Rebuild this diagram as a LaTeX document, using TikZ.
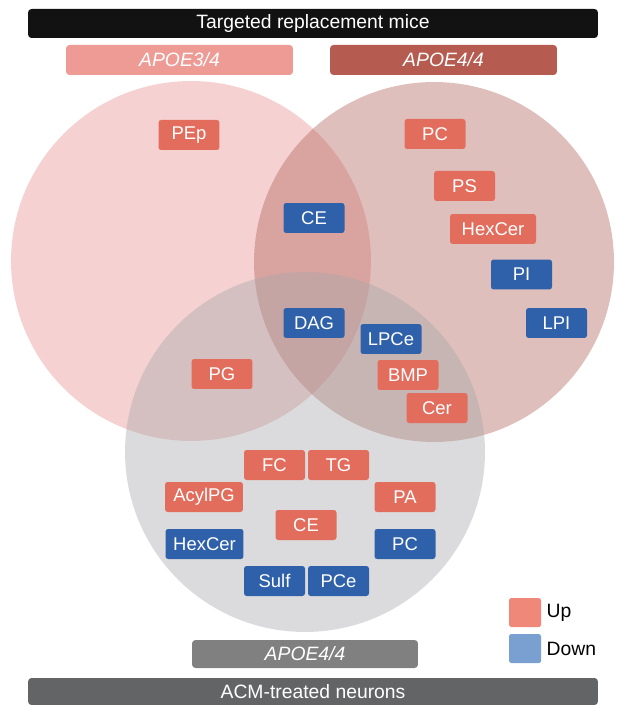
\documentclass[tikz,border=0pt]{standalone}
\usepackage{fontspec}
\setmainfont{Liberation Sans}
\usetikzlibrary{positioning}
\definecolor{hausse}{HTML}{E36D5D}
\definecolor{baisse}{HTML}{2F61AB}
\definecolor{hausseclair}{HTML}{EF8878}
\definecolor{baisseclair}{HTML}{7A9FD1}
\definecolor{rose}{RGB}{232,144,140}
\definecolor{brique}{RGB}{175,95,88}
\definecolor{gris}{RGB}{165,167,170}
\definecolor{bandrose}{RGB}{238,154,149}
\definecolor{bandbrique}{RGB}{182,91,80}
\definecolor{bandgris}{RGB}{128,128,128}
\definecolor{bandfonce}{RGB}{99,100,102}

\begin{document}
\begin{tikzpicture}[x=0.02cm,y=-0.02cm]
  \tikzstyle{lipide}=[rounded corners=1.5pt, minimum width=1.22cm, minimum height=0.6cm, inner sep=0, text=white, font=\fontsize{10.5}{12}\selectfont];
  \tikzstyle{hausse}=[lipide, fill=hausse];
  \tikzstyle{baisse}=[lipide, fill=baisse];
  \tikzstyle{bandeau}=[rounded corners=2pt, minimum height=0.6cm, inner sep=0, text=white, font=\fontsize{11}{13}\selectfont];

  \clip (0,0) rectangle (616,705);
  \fill[white] (0,0) rectangle (616,705);

  % les trois ensembles
  \fill[rose, fill opacity=.4] (191,261) circle (3.6cm);
  \fill[brique, fill opacity=.4] (434,262) circle (3.6cm);
  \fill[gris, fill opacity=.4] (305,452) circle (3.6cm);

  % bandeaux
  \node[bandeau, fill=black!93, minimum width=11.4cm, minimum height=0.58cm] (TR) at (313,23.5) {Targeted replacement mice};
  \node[bandeau, fill=bandrose, minimum width=4.54cm] (A34) at (179.5,60) {\itshape APOE3/4};
  \node[bandeau, fill=bandbrique, minimum width=4.54cm] (A44) at (443.5,60) {\itshape APOE4/4};
  \node[bandeau, fill=bandgris, minimum width=4.52cm, minimum height=0.56cm] (A44n) at (305,654) {\itshape APOE4/4};
  \node[bandeau, fill=bandfonce, minimum width=11.4cm, minimum height=0.54cm] (ACM) at (313,691.5) {ACM-treated neurons};

  % APOE3/4 seul
  \node[hausse] (PEp) at (189,135) {PEp};
  % APOE4/4 seul
  \node[hausse] (PC) at (435,134) {PC};
  \node[hausse] (PS) at (464.5,186) {PS};
  \node[hausse, minimum width=1.72cm] (HexCer) at (493,229) {HexCer};
  \node[baisse] (PI) at (521.5,274.5) {PI};
  \node[baisse] (LPI) at (556.5,323) {LPI};
  % intersections
  \node[baisse] (CE) at (314,218) {CE};
  \node[baisse] (DAG) at (314,323) {DAG};
  \node[hausse] (PG) at (222,374) {PG};
  \node[baisse] (LPCe) at (391,339) {LPCe};
  \node[hausse] (BMP) at (408,375) {BMP};
  \node[hausse] (Cer) at (437,408) {Cer};
  % neurones seuls
  \node[hausse] (FC) at (274.5,465) {FC};
  \node[hausse] (TG) at (338.5,465) {TG};
  \node[hausse, minimum width=1.56cm] (AcylPG) at (204,497) {AcylPG};
  \node[hausse] (PA) at (405,497) {PA};
  \node[hausse] (CEn) at (306,525) {CE};
  \node[baisse, minimum width=1.56cm] (HexCern) at (204.5,544) {HexCer};
  \node[baisse] (PCn) at (405,544) {PC};
  \node[baisse] (Sulf) at (274.5,581) {Sulf};
  \node[baisse] (PCe) at (338.5,581) {PCe};

  % legende
  \node[fill=hausseclair, rounded corners=1pt, minimum width=0.64cm, minimum height=0.58cm, inner sep=0] (up) at (525,612.5) {};
  \node[fill=baisseclair, rounded corners=1pt, minimum width=0.64cm, minimum height=0.58cm, inner sep=0] (down) at (525,648.5) {};
  \node[right=0.1cm of up, font=\fontsize{11}{13}\selectfont, inner sep=0] (lup) {Up};
  \node[right=0.1cm of down, font=\fontsize{11}{13}\selectfont, inner sep=0] (ldown) {Down};
\end{tikzpicture}
\end{document}
